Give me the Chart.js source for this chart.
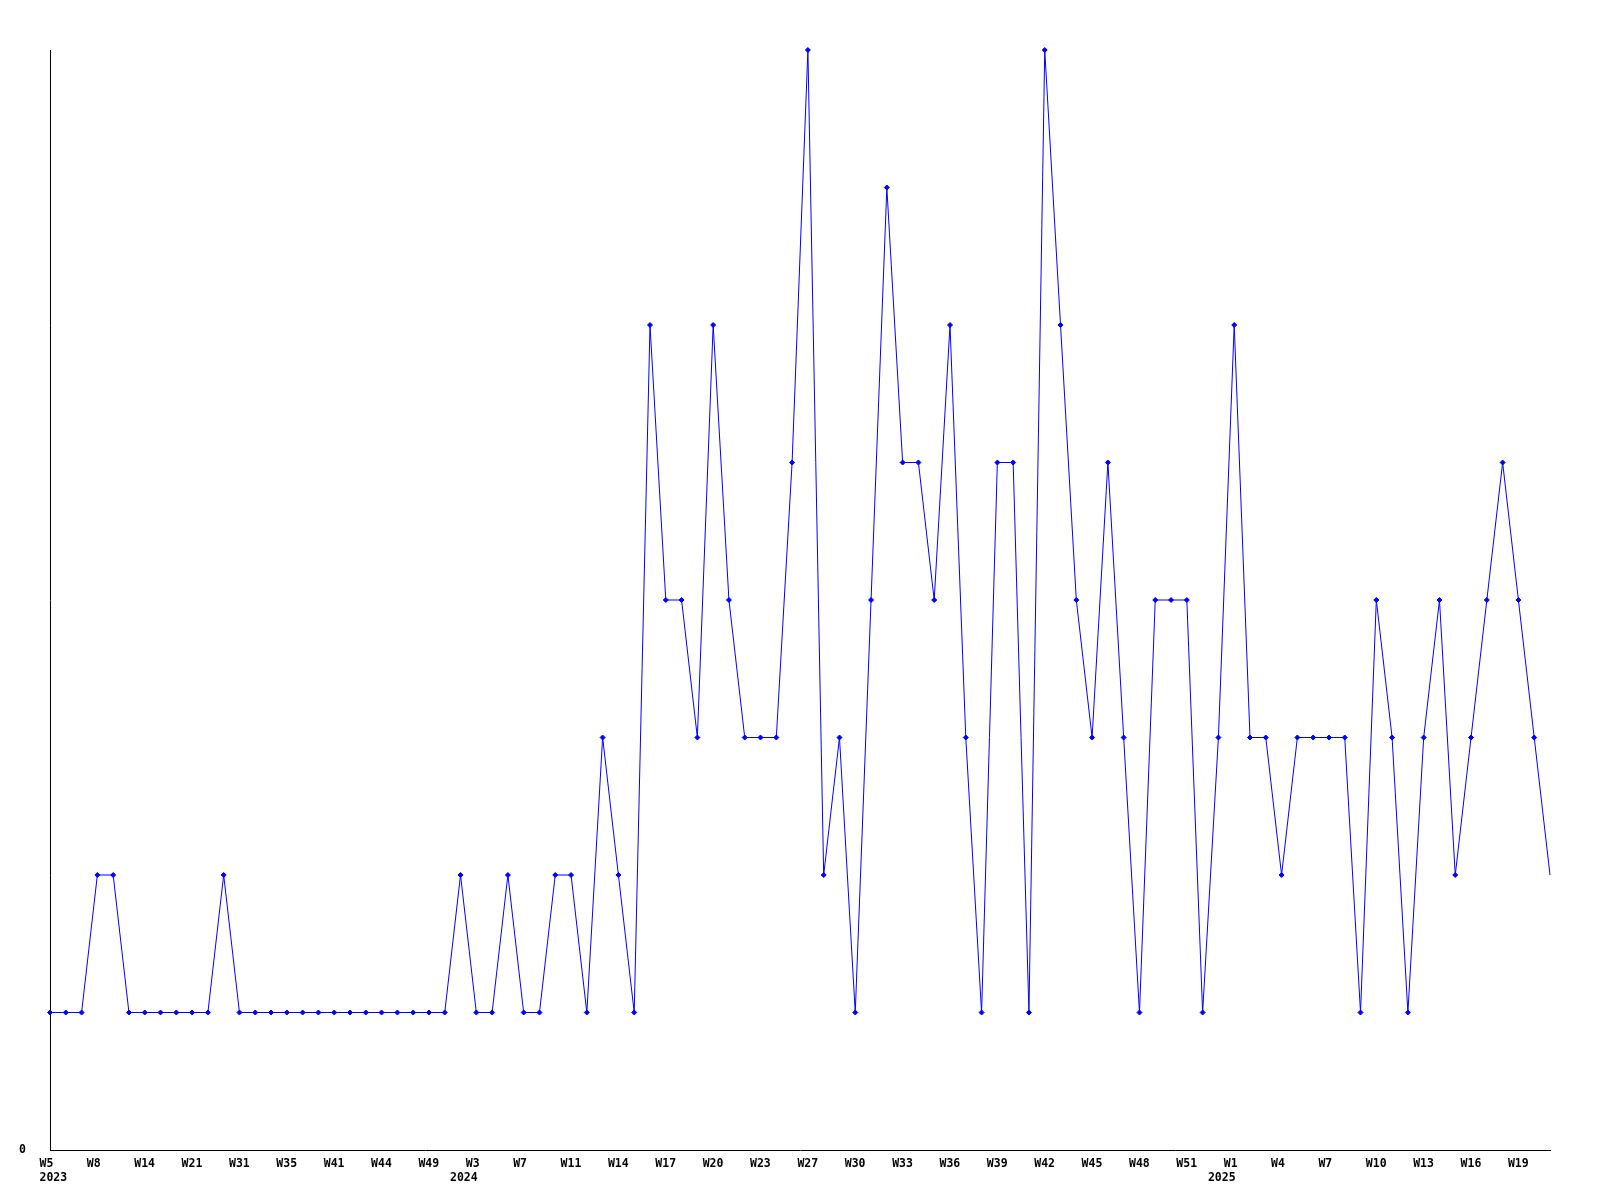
<!DOCTYPE html>
<html>
<head>
<meta charset="utf-8">
<script src="https://cdn.jsdelivr.net/npm/chart.js@4"></script>
<style>
  body { margin: 0; background: #fff; }
</style>
</head>
<body>
<canvas id="chart" width="1600" height="1200"></canvas>
<script>
// week numbers that have data, per year
const weeks2023 = [5, 6, 7, 8, 10, 12, 14, 17, 19, 21, 25, 28, 31, 33, 34, 35, 37, 39, 41, 42, 43, 44, 46, 47, 49, 51]
const weeks2024 = [0, 3, 5, 6, 7, 9, 10, 11, 12, 13, 14, 15, 16, 17, 18, 19, 20, 21, 22, 23, 25, 26,
  27, 28, 29, 30, 31, 32, 33, 34, 35, 36, 37, 38, 39, 40, 41, 42, 43, 44, 45, 46, 47, 48, 49, 50, 51, 52]
const weeks2025 = [0, 1, 2, 3, 4, 5, 6, 7, 8, 9, 10, 11, 12, 13, 14, 15, 16, 17, 18, 19, 20, 21]

const counts = [
  1, 1, 1, 2, 2, 1, 1, 1, 1, 1,
  1, 2, 1, 1, 1, 1, 1, 1, 1, 1,
  1, 1, 1, 1, 1, 1, 2, 1, 1, 2,
  1, 1, 2, 2, 1, 3, 2, 1, 6, 4,
  4, 3, 6, 4, 3, 3, 3, 5, 8, 2,
  3, 1, 4, 7, 5, 5, 4, 6, 3, 1,
  5, 5, 1, 8, 6, 4, 3, 5, 3, 1,
  4, 4, 4, 1, 3, 6, 3, 3, 2, 3,
  3, 3, 3, 1, 4, 3, 1, 3, 4, 2,
  3, 4, 5, 4, 3, 2
]

const yMax = 8

// flat category list
const cats = []
;[[2023, weeks2023], [2024, weeks2024], [2025, weeks2025]].forEach(([y, ws]) => {
  ws.forEach((w, i) => cats.push({ week: 'W' + w, year: i === 0 ? String(y) : '' }))
})
const labels = cats.map(c => c.week)

Chart.defaults.font.family = "'DejaVu Sans Mono', monospace"
Chart.defaults.font.weight = 'bold'
Chart.defaults.font.size = 11.5
Chart.defaults.color = '#000'

new Chart(document.getElementById('chart'), {
  type: 'line',
  data: {
    labels: labels,
    datasets: [{
      data: counts,
      borderColor: '#0000ff',
      backgroundColor: '#0000ff',
      borderWidth: 1,
      tension: 0,
      pointStyle: 'rectRot',
      pointRadius: ctx => ctx.dataIndex === counts.length - 1 ? 0 : 2.5,
      pointBorderWidth: 1,
      pointBorderColor: '#0000ff',
      pointBackgroundColor: '#0000ff',
      clip: false
    }]
  },
  options: {
    responsive: false,
    animation: false,
    layout: { padding: { top: 50, right: 50, left: 0, bottom: 0 } },
    plugins: { legend: { display: false }, tooltip: { enabled: false } },
    scales: {
      x: {
        offset: false,
        grid: { display: false, drawTicks: false },
        border: { display: true, color: '#000', width: 1 },
        afterFit: s => { s.height = 50 },
        ticks: {
          autoSkip: false,
          maxRotation: 0,
          minRotation: 0,
          align: 'start',
          labelOffset: -10.5,
          padding: 7,
          callback: function (v, i) {
            const wk = i % 3 === 0 ? cats[i].week : ''
            return [wk, cats[i].year]
          }
        }
      },
      y: {
        min: 0,
        max: yMax,
        grid: { display: false, drawTicks: false },
        border: { display: true, color: '#000', width: 1 },
        afterFit: s => { s.width = 50 },
        ticks: {
          stepSize: yMax,
          padding: 24,
          callback: v => v === 0 ? '0' : null
        }
      }
    }
  }
})
</script>
</body>
</html>
